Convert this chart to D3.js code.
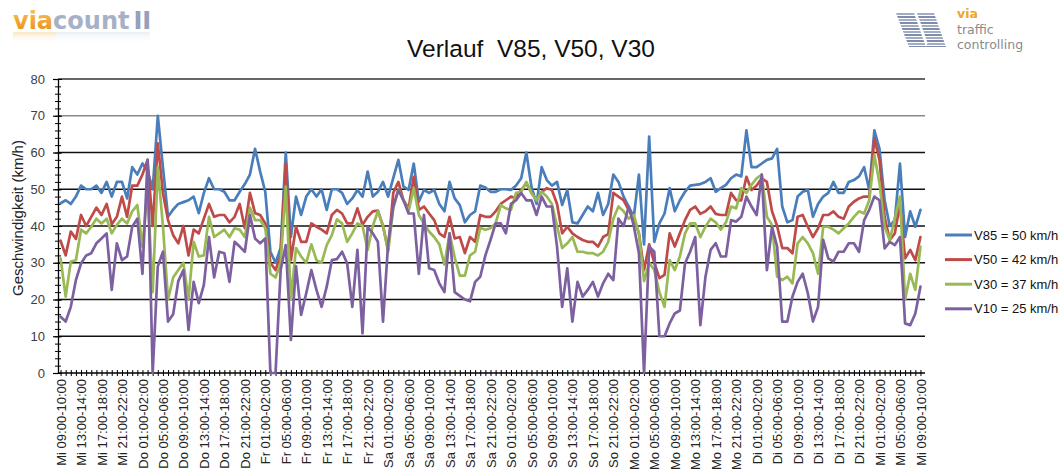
<!DOCTYPE html>
<html><head><meta charset="utf-8">
<script src="https://cdn.jsdelivr.net/npm/d3@7"></script>
<style>body{margin:0;background:#fff}svg{display:block}</style>
</head><body>
<svg id="c" width="1061" height="471"></svg>
<script>
const tickLabels = ["Mi 09:00-10:00","Mi 13:00-14:00","Mi 17:00-18:00","Mi 21:00-22:00",
"Do 01:00-02:00","Do 05:00-06:00","Do 09:00-10:00","Do 13:00-14:00","Do 17:00-18:00","Do 21:00-22:00",
"Fr 01:00-02:00","Fr 05:00-06:00","Fr 09:00-10:00","Fr 13:00-14:00","Fr 17:00-18:00","Fr 21:00-22:00",
"Sa 01:00-02:00","Sa 05:00-06:00","Sa 09:00-10:00","Sa 13:00-14:00","Sa 17:00-18:00","Sa 21:00-22:00",
"So 01:00-02:00","So 05:00-06:00","So 09:00-10:00","So 13:00-14:00","So 17:00-18:00","So 21:00-22:00",
"Mo 01:00-02:00","Mo 05:00-06:00","Mo 09:00-10:00","Mo 13:00-14:00","Mo 17:00-18:00","Mo 21:00-22:00",
"Di 01:00-02:00","Di 05:00-06:00","Di 09:00-10:00","Di 13:00-14:00","Di 17:00-18:00","Di 21:00-22:00",
"Mi 01:00-02:00","Mi 05:00-06:00","Mi 09:00-10:00"];

const v85 = [46.2,47,46,48,51,50,50,51,49,52,48,52,52,47.5,56,54,57,55,50,70,56,42.5,44.5,46,46.5,47,48,43.5,49,53,
50,50,49.3,47,47,49.3,51.4,54,61,54.8,49.3,33,30,34,60,37,48,43,48,50,48,50,44.4,50,50,49,46,47.5,49.8,48,
54.8,48,49.3,52,48,53,58,50.7,49.8,57,46.6,49.8,49,49.8,46,44,52,47.5,45.7,41,43,44,51,50.5,49.3,49.3,50,50,49.8,51,
53,60,50.7,46,56,52.5,51,52,45.7,49.8,41,40.7,43,45.3,44,49,43,46,54,52,48,45.3,42.5,54,35,64.3,35.7,40.7,43.4,50.3,
44,47,49.3,51,51.2,51.4,52,53,49.3,50.3,51.2,53,54,53.5,66,56,56,57,58,58.4,61,45.3,41,41.6,48,49.3,49.8,42.5,46,48,
49,52,49,49,52,52.5,53.5,56,49.8,66,61,47,40,41.6,57,37,44,39.8,44.4];

const v50 = [36,32,38.5,36.5,43,40,42.5,45,43,46,40.5,42.5,48,42.5,51,51,54,58,40,62.5,49,41.6,37.5,35.3,40,32,39,38,42,46,
42.5,43,43,41,42.5,46,39.4,49,43.5,43,40.7,30,28,32,57,30.7,39.8,35.7,35.7,40.7,39.8,39,38,43,44.4,43.4,40.7,40.7,44.8,40.3,
42.5,44,44.2,40,33.5,49,52,47,44.8,53.4,44.4,45.3,43.4,41.6,38,37,42.5,36.6,37,32.6,37,35.7,43,42.5,42.5,44,46,47,48,47.5,
49.8,51.6,49,47,49.3,50.3,49.8,46,38,39.8,38,37,36.2,35.7,35.7,34.4,37,37.8,49,48,47,44.4,42,38,28,35,30,25.8,26.7,38,
34.4,38,41.6,44.4,45.3,43.3,44,45.3,43.3,43,43,49,47,47,53.4,49.8,51,53,52,44,40,34,34,32.6,42.5,43,39.8,37,39.4,43,
43,44,42.5,42,45.3,46.6,47.5,48,48,63.9,58,42.5,36.2,38,46,31.2,33.5,30.7,37];

const v30 = [31.2,20.8,30.3,30.7,39,38,39.8,42,40.7,42,38,40.3,42,40.7,44,45.7,34.4,50,22,56,40,20,26,28,30,20,35.7,31.7,32,42.5,
37,38,39,37,39.4,39,37,45,41.6,41.6,39.4,27,26,30,50.7,20,34,31.7,30,35,30.7,30,34.8,37.5,41.8,40.7,35.7,38,40.7,40,
33.5,40,44,40,33,44.8,50,47,44,50.3,43,40.7,38.5,37,35,29.5,38,31.5,26.5,26.5,32,33,39.5,39,39.4,40.7,45.7,44.8,44.4,49,
49.3,52,49,47,49.3,48,46,40,34,35.3,37,33,33,32.6,32.6,32,33,35.7,42,45.3,44,42,43,38,25,30,28,22,18,30.7,
28,31.7,38,40.7,40.7,37,39.8,42,41,39,41,45.3,44.8,50.3,49,51.2,53,54,42.5,40.3,26.2,25.3,26.2,24.4,35.3,37,35.3,32.6,27,39.8,
39.8,39,38,39.4,40.7,42.5,44,43.4,47,59.3,51.6,39.8,36.2,42,48,19.9,27,22.6,34.4];

const v10 = [15.3,14,18,25.3,29.8,32,32.6,35.3,36.6,38,22.6,35.3,30.7,31.7,39.8,42,27,58,0,29,33,14,16,25,28,11.7,24.8,19,24,37,
26,33,32.6,24.8,35.7,34.4,33,43,36.6,35.3,36.6,0,0,28,34.8,9,29,15.8,21.7,28,22.6,18,23.5,30.7,31,33,29.8,18,33.5,10.8,
39.8,38,35.7,14,35.3,45.3,49.8,47,43.4,43.4,27,43,28.5,28,24.4,22,38,22,21,20,19.5,24.8,26.2,32,36.2,40.7,40.7,38,46,47,
49,47,47,43,48,45.3,45.3,34.4,18,28.5,14,24.8,20.8,22.6,24.8,20.8,24.4,27,25.3,42,40,45.3,40,32.6,0,34.4,33,10,10,13.5,
16.2,17,29.8,33,37,13,26.2,33.5,35.3,31.7,31.7,41.6,41.2,42.5,48,45.3,43,54,28,39.8,34.4,14,14,20.8,24.8,27,21.7,14,18,36.2,
31.2,30.3,33,33,35.3,35.3,33,41.6,44.4,48,47,33.9,35.7,34.8,37,13.5,13,16.2,23.5];

const seriesNames = ["V85 = 50 km/h","V50 = 42 km/h","V30 = 37 km/h","V10 = 25 km/h"];
const seriesData = [v85, v50, v30, v10];
const colors = ["#4A7EBB","#BE4B48","#98B954","#7D60A0"];
const yTicks = [0,10,20,30,40,50,60,70,80];

const svg = d3.select("#c");
const X0 = 58, X1 = 923, YT = 79, YB = 373;
const n = v85.length;
const categories = d3.range(n);
const x = d3.scalePoint().domain(categories).range([X0, X1]).padding(0.5);
const y = d3.scaleLinear().domain([0, 80]).range([YB, YT]);

// gridlines
svg.append("g").selectAll("line").data(yTicks.filter(d => d > 0)).join("line")
  .attr("x1", X0).attr("x2", X1 + 2).attr("y1", d => y(d)).attr("y2", d => y(d))
  .attr("stroke", d => d === 70 ? "#8a8a8a" : (d === 80 ? "#333" : "#111"))
  .attr("stroke-width", 1.4);

// y axis minor ticks (both sides)
const yMinor = d3.range(0, 81, 2);
svg.append("g").attr("transform", `translate(${X0},0)`)
  .call(d3.axisLeft(y).tickValues(yMinor).tickSize(3).tickFormat(""))
  .call(g => g.select(".domain").remove());
svg.append("g").attr("transform", `translate(${X0},0)`)
  .call(d3.axisRight(y).tickValues(yMinor).tickSize(3).tickFormat(""))
  .call(g => g.select(".domain").remove());
svg.append("g").attr("transform", `translate(${X0},0)`)
  .call(d3.axisRight(y).tickValues(yTicks).tickSize(4).tickFormat(""))
  .call(g => g.select(".domain").remove());
// y axis major
const yAx = svg.append("g").attr("transform", `translate(${X0},0)`)
  .call(d3.axisLeft(y).tickValues(yTicks).tickSize(5).tickPadding(8).tickSizeOuter(0));
yAx.select(".domain").attr("stroke", "#000").attr("stroke-width", 1.3);
yAx.selectAll("line").attr("stroke", "#000").attr("stroke-width", 1.2);
yAx.selectAll("text").attr("font-family", "Liberation Sans, Arial, sans-serif")
  .attr("font-size", 13).attr("fill", "#404040");

// x axis small ticks
svg.append("g").attr("transform", `translate(0,${YB})`)
  .call(d3.axisBottom(x).tickSize(3).tickFormat("").tickSizeOuter(0))
  .call(g => g.select(".domain").remove())
  .call(g => g.selectAll("line").attr("stroke", "#000").attr("stroke-width", 1));
svg.append("g").attr("transform", `translate(0,${YB})`)
  .call(d3.axisTop(x).tickSize(3).tickFormat("").tickSizeOuter(0))
  .call(g => g.select(".domain").remove())
  .call(g => g.selectAll("line").attr("stroke", "#000").attr("stroke-width", 1));
// x axis with labels
const xAx = svg.append("g").attr("transform", `translate(0,${YB})`)
  .call(d3.axisBottom(x).tickValues(categories.filter(i => i % 4 === 0))
    .tickFormat(i => tickLabels[i / 4]).tickSize(0).tickSizeOuter(0));
xAx.select(".domain").attr("stroke", "#000").attr("stroke-width", 1.4)
  .attr("d", `M${X0},0H${X1 + 2}`);
xAx.selectAll("text")
  .attr("transform", "rotate(-90)")
  .attr("text-anchor", "end")
  .attr("x", -6).attr("y", 0).attr("dy", "0.35em")
  .attr("font-family", "Liberation Sans, Arial, sans-serif")
  .attr("font-size", 13).attr("fill", "#222");

// series lines (V85 first, V10 on top)
const line = d3.line().x((d, i) => x(i)).y(d => y(d));
svg.append("g").selectAll("path").data(seriesData).join("path")
  .attr("d", line).attr("fill", "none")
  .attr("stroke", (d, i) => colors[i]).attr("stroke-width", 2.7)
  .attr("stroke-linejoin", "round").attr("stroke-linecap", "round");

// title
svg.append("text").attr("x", 531).attr("y", 57).attr("text-anchor", "middle")
  .attr("font-family", "Liberation Sans, Arial, sans-serif").attr("font-size", 24.5)
  .attr("fill", "#111").attr("xml:space", "preserve").text("Verlauf  V85, V50, V30");

// y label
svg.append("text").attr("transform", "translate(23,218) rotate(-90)").attr("text-anchor", "middle")
  .attr("font-family", "Liberation Sans, Arial, sans-serif").attr("font-size", 15)
  .attr("fill", "#222").text("Geschwindigkeit (km/h)");

// legend
const lg = svg.append("g").selectAll("g").data(seriesNames).join("g")
  .attr("transform", (d, i) => `translate(945,${235 + i * 24.6})`);
lg.append("line").attr("x1", 0).attr("x2", 27).attr("y1", 0).attr("y2", 0)
  .attr("stroke", (d, i) => colors[i]).attr("stroke-width", 3);
lg.append("text").attr("x", 29).attr("y", 0).attr("dy", "0.35em")
  .attr("font-family", "Liberation Sans, Arial, sans-serif").attr("font-size", 13)
  .attr("fill", "#111").text(d => d);

// left logo "viacount II"
const defs = svg.append("defs");
const og = defs.append("linearGradient").attr("id", "og").attr("x1", 0).attr("y1", 0).attr("x2", 0).attr("y2", 1);
og.append("stop").attr("offset", "0").attr("stop-color", "#F9C35A");
og.append("stop").attr("offset", "1").attr("stop-color", "#E98A12");
const logoT = svg.append("text").attr("x", 13).attr("y", 29).attr("font-size", 24)
  .attr("font-family", "DejaVu Sans, Verdana, sans-serif").attr("font-weight", "bold");
logoT.append("tspan").attr("fill", "url(#og)").text("via");
logoT.append("tspan").attr("fill", "#A7B1C6").text("count");
logoT.append("tspan").attr("fill", "#95A1BB").attr("dx", 4).text("II");
// faint reflection drawn as soft bars
const rg = defs.append("linearGradient").attr("id", "rg").attr("x1", 0).attr("y1", 0).attr("x2", 0).attr("y2", 1);
rg.append("stop").attr("offset", "0").attr("stop-color", "#E8ECF3").attr("stop-opacity", 0.9);
rg.append("stop").attr("offset", "1").attr("stop-color", "#fff").attr("stop-opacity", 0);
const rgo = defs.append("linearGradient").attr("id", "rgo").attr("x1", 0).attr("y1", 0).attr("x2", 0).attr("y2", 1);
rgo.append("stop").attr("offset", "0").attr("stop-color", "#FBE3BE").attr("stop-opacity", 0.9);
rgo.append("stop").attr("offset", "1").attr("stop-color", "#fff").attr("stop-opacity", 0);
svg.append("rect").attr("x", 13).attr("y", 32).attr("width", 43).attr("height", 12).attr("fill", "url(#rgo)");
svg.append("rect").attr("x", 56).attr("y", 32).attr("width", 94).attr("height", 12).attr("fill", "url(#rg)");

// right logo
const cp = defs.append("clipPath").attr("id", "vaclip");
cp.append("polygon").attr("points", "896,13 914,13 926,47 909,47");
cp.append("polygon").attr("points", "917,13 934,13 946,47 929,47");
cp.append("polygon").attr("points", "926,47 936,22 941,35 937,47");
const stripes = svg.append("g").attr("clip-path", "url(#vaclip)");
stripes.selectAll("rect").data(d3.range(0, 12)).join("rect")
  .attr("x", 890).attr("y", d => 13 + d * 3).attr("width", 60).attr("height", 2)
  .attr("fill", d => d % 2 ? "#7F8CAB" : "#A2ACC3");
const rl = svg.append("g").attr("font-family", "DejaVu Sans, Verdana, sans-serif").attr("font-size", 12.5);
rl.append("text").attr("x", 957).attr("y", 18).attr("font-weight", "bold")
  .attr("fill", "#EFA52C").text("via");
rl.append("text").attr("x", 957).attr("y", 33.5).attr("fill", "#8a8a8a").text("traffic");
rl.append("text").attr("x", 957).attr("y", 49).attr("fill", "#8a8a8a").text("controlling");
</script>
</body></html>
